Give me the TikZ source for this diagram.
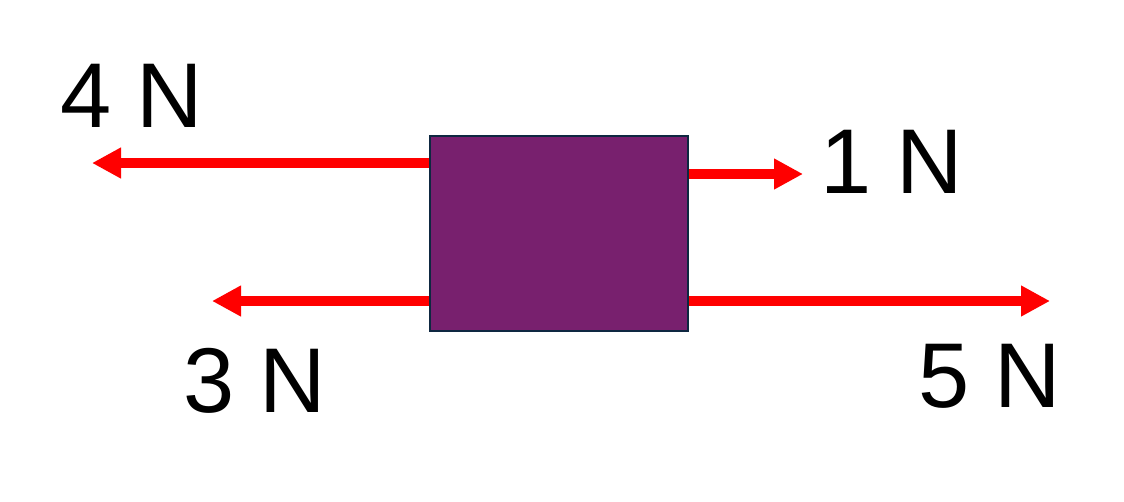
\documentclass[tikz,border=0pt]{standalone}
\usepackage{xcolor}
\usepackage{fontspec}
\setmainfont{Liberation Sans}
\usetikzlibrary{arrows.meta}
\definecolor{boxfill}{HTML}{78206E}
\definecolor{boxline}{HTML}{0E2841}
\definecolor{forcered}{HTML}{FF0000}

\begin{document}
\begin{tikzpicture}[x=1pt,y=-1pt,
    force/.style={draw=forcered,line width=9.5pt,-{Triangle[length=29pt,width=29pt]}},
    lab/.style={anchor=base west,inner sep=0pt,font=\fontsize{92}{92}\selectfont}]
      \useasboundingbox (0,0) rectangle (1124,501);
      \node[draw=boxline,fill=boxfill,line width=2.7pt,minimum width=258pt,minimum height=195pt,inner sep=0pt] (mass) at (559,233.5) {};
      \coordinate (tipfour) at (92,163);
      \coordinate (tipone) at (803,174);
      \coordinate (tipthree) at (212,301);
      \coordinate (tipfive) at (1050,301);
      \draw[force] (mass.west |- tipfour) -- (tipfour);
      \draw[force] (mass.east |- tipone) -- (tipone);
      \draw[force] (mass.west |- tipthree) -- (tipthree);
      \draw[force] (mass.east |- tipfive) -- (tipfive);
      \node[lab] (labfour) at (60,127) {4 N};
      \node[lab] (labone) at (820,193) {1 N};
      \node[lab] (labthree) at (183,412) {3 N};
      \node[lab] (labfive) at (918,407) {5 N};
    \end{tikzpicture}
\end{document}
